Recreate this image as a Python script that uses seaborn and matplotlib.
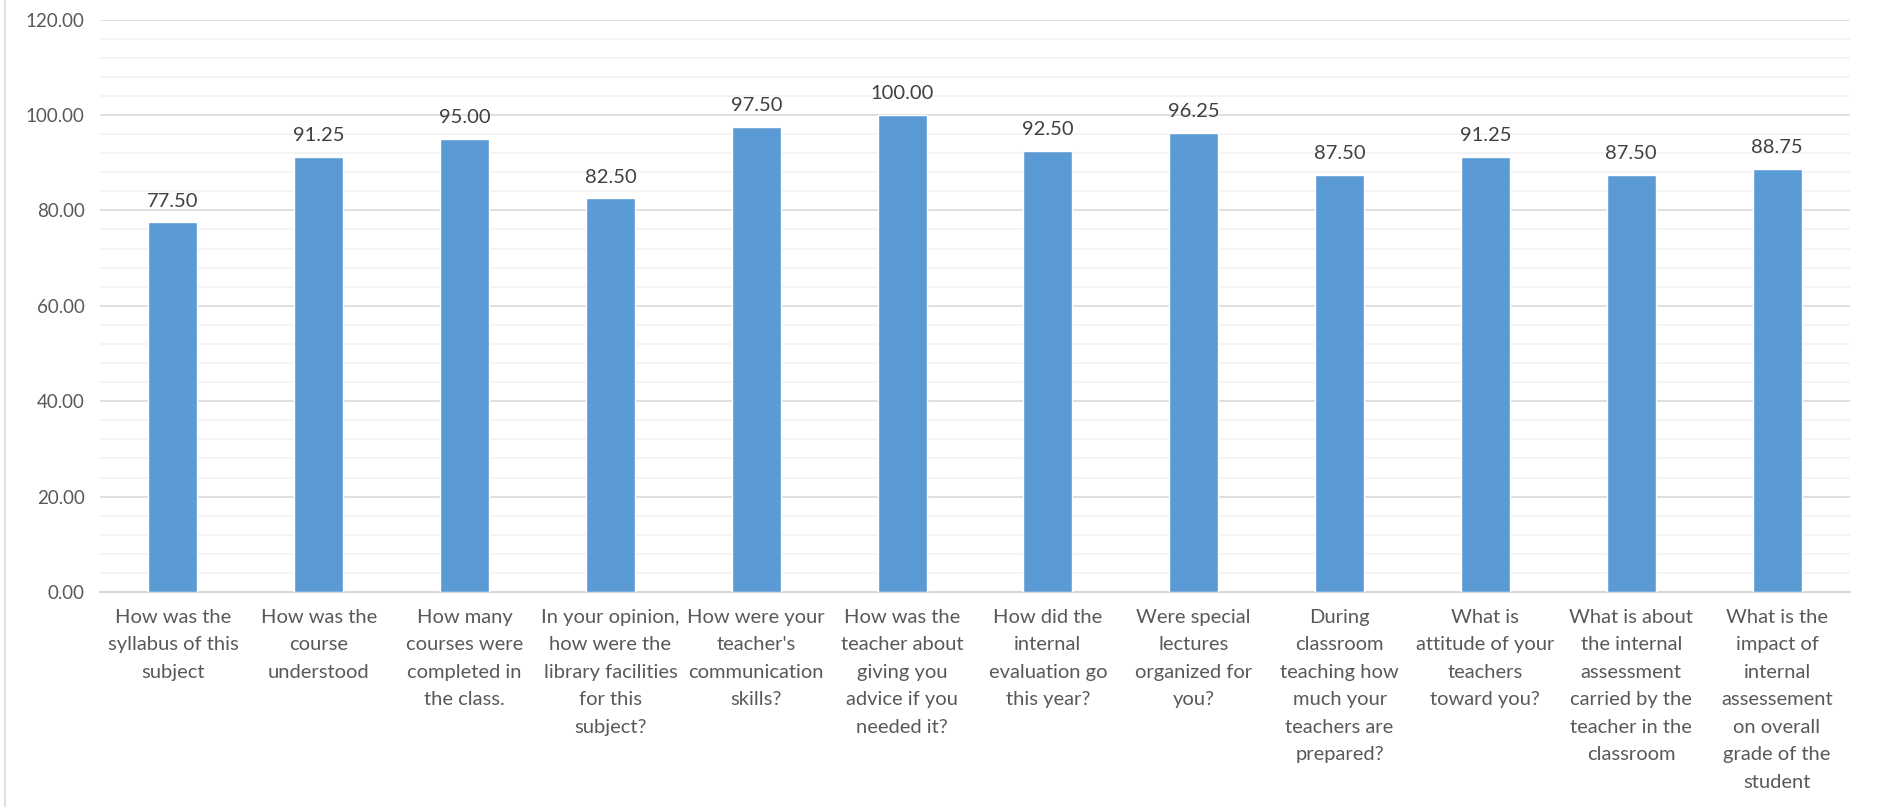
# survey scores bar chart

import numpy as np
import pandas as pd
import matplotlib.pyplot as plt
import seaborn as sns
from matplotlib.lines import Line2D
from matplotlib.ticker import MultipleLocator, FormatStrFormatter

questions = [
    "How was the\nsyllabus of this\nsubject",
    "How was the\ncourse\nunderstood",
    "How many\ncourses were\ncompleted in\nthe class.",
    "In your opinion,\nhow were the\nlibrary facilities\nfor this\nsubject?",
    "How were your\nteacher's\ncommunication\nskills?",
    "How was the\nteacher about\ngiving you\nadvice if you\nneeded it?",
    "How did the\ninternal\nevaluation go\nthis year?",
    "Were special\nlectures\norganized for\nyou?",
    "During\nclassroom\nteaching how\nmuch your\nteachers are\nprepared?",
    "What is\nattitude of your\nteachers\ntoward you?",
    "What is about\nthe internal\nassessment\ncarried by the\nteacher in the\nclassroom",
    "What is the\nimpact of\ninternal\nassessement\non overall\ngrade of the\nstudent",
]
scores = [77.50, 91.25, 95.00, 82.50, 97.50, 100.00, 92.50, 96.25, 87.50, 91.25, 87.50, 88.75]

df = pd.DataFrame({'question': questions, 'score': scores})

sns.set_style('white')
plt.rcParams['font.family'] = ['Lato', 'DejaVu Sans']

fig = plt.figure(figsize=(18.77, 8.07), dpi=100)
ax = fig.add_axes([0.0533, 0.2664, 0.9323, 0.7094])

sns.barplot(data=df, x='question', y='score', color='#5B9BD5', saturation=1,
            width=0.336, ax=ax, zorder=3)

ax.set_ylim(0, 120)
ax.set_xlim(-0.5, len(questions) - 0.5)
ax.yaxis.set_major_locator(MultipleLocator(20))
ax.yaxis.set_minor_locator(MultipleLocator(4))
ax.yaxis.set_major_formatter(FormatStrFormatter('%.2f'))
ax.grid(axis='y', which='major', color='#D9D9D9', linewidth=1.2, zorder=0)
ax.grid(axis='y', which='minor', color='#F2F2F2', linewidth=1.2, zorder=0)
ax.set_axisbelow(True)

for s in ['top', 'right', 'left']:
    ax.spines[s].set_visible(False)
ax.spines['bottom'].set_color('#D9D9D9')
ax.spines['bottom'].set_linewidth(1.5)

ax.tick_params(axis='y', which='both', length=0, pad=11, labelsize=13.5, labelcolor='#595959')
ax.set_xticks(range(len(questions)), labels=questions, linespacing=1.75,
              fontsize=14.5, color='#595959')
ax.tick_params(axis='x', length=0, pad=12)
ax.set_xlabel('')
ax.set_ylabel('')

for c in ax.containers:
    ax.bar_label(c, fmt='%.2f', padding=9, fontsize=14.5, color='#404040')

# chart area border on the left
fig.add_artist(Line2D([0.0027, 0.0027], [0, 1], color='#D9D9D9', linewidth=1.2))

fig.savefig('out.png', dpi=100)
